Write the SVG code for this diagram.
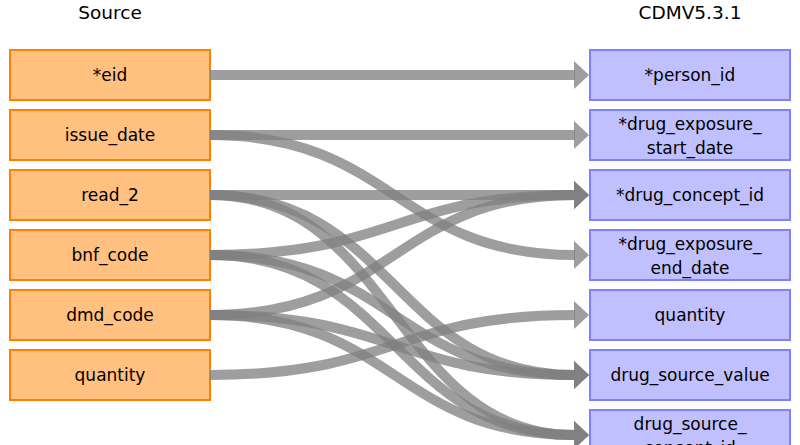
<svg xmlns="http://www.w3.org/2000/svg" width="800" height="445" viewBox="0 0 800 445">
<style>
.src rect{fill:#FFC080;stroke:#FF8000;stroke-width:2}
.tgt rect{fill:#C0C0FF;stroke:#8080FF;stroke-width:2}
text{font-family:"DejaVu Sans","Liberation Sans",sans-serif;font-size:17px;fill:#000;text-anchor:middle}
.hdr{font-size:18.5px}
#connectors path{fill:none;stroke:#808080;stroke-width:10;stroke-opacity:0.76;marker-end:url(#ah)}
</style>
<defs>
<marker id="ah" markerUnits="userSpaceOnUse" markerWidth="16" markerHeight="30" refX="1" refY="15" orient="auto" viewBox="0 0 16 30">
<path d="M0,1 L15,15 L0,29 Z" fill="#808080" fill-opacity="0.76"/>
</marker>
</defs>
<rect width="800" height="445" fill="#fff"/>
<text class="hdr" x="110" y="19">Source</text>
<text class="hdr" x="690" y="19">CDMV5.3.1</text>
<g id="src_eid" class="src"><rect x="10" y="50" width="200" height="50"/><text x="110" y="81">*eid</text></g>
<g id="src_issue_date" class="src"><rect x="10" y="110" width="200" height="50"/><text x="110" y="141">issue_date</text></g>
<g id="src_read_2" class="src"><rect x="10" y="170" width="200" height="50"/><text x="110" y="201">read_2</text></g>
<g id="src_bnf_code" class="src"><rect x="10" y="230" width="200" height="50"/><text x="110" y="261">bnf_code</text></g>
<g id="src_dmd_code" class="src"><rect x="10" y="290" width="200" height="50"/><text x="110" y="321">dmd_code</text></g>
<g id="src_quantity" class="src"><rect x="10" y="350" width="200" height="50"/><text x="110" y="381">quantity</text></g>
<g id="tgt_person_id" class="tgt"><rect x="590" y="50" width="200" height="50"/><text x="690" y="81">*person_id</text></g>
<g id="tgt_drug_exposure_start_date" class="tgt"><rect x="590" y="110" width="200" height="50"/><text x="690" y="130">*drug_exposure_</text><text x="690" y="154">start_date</text></g>
<g id="tgt_drug_concept_id" class="tgt"><rect x="590" y="170" width="200" height="50"/><text x="690" y="201">*drug_concept_id</text></g>
<g id="tgt_drug_exposure_end_date" class="tgt"><rect x="590" y="230" width="200" height="50"/><text x="690" y="250">*drug_exposure_</text><text x="690" y="274">end_date</text></g>
<g id="tgt_quantity" class="tgt"><rect x="590" y="290" width="200" height="50"/><text x="690" y="321">quantity</text></g>
<g id="tgt_drug_source_value" class="tgt"><rect x="590" y="350" width="200" height="50"/><text x="690" y="381">drug_source_value</text></g>
<g id="tgt_drug_source_concept_id" class="tgt"><rect x="590" y="410" width="200" height="50"/><text x="690" y="430">drug_source_</text><text x="690" y="454">concept_id</text></g>
<g id="connectors">
<path d="M210,75 L575,75"/>
<path d="M210,135 L575,135"/>
<path d="M210,135 C395,135 395,255 575,255"/>
<path d="M210,195 L575,195"/>
<path d="M210,195 C395,195 395,375 575,375"/>
<path d="M210,195 C395,195 395,435 575,435"/>
<path d="M210,255 C395,255 395,195 575,195"/>
<path d="M210,255 C395,255 395,375 575,375"/>
<path d="M210,255 C395,255 395,435 575,435"/>
<path d="M210,315 C395,315 395,195 575,195"/>
<path d="M210,315 C395,315 395,375 575,375"/>
<path d="M210,315 C395,315 395,435 575,435"/>
<path d="M210,375 C395,375 395,315 575,315"/>
</g>
</svg>
